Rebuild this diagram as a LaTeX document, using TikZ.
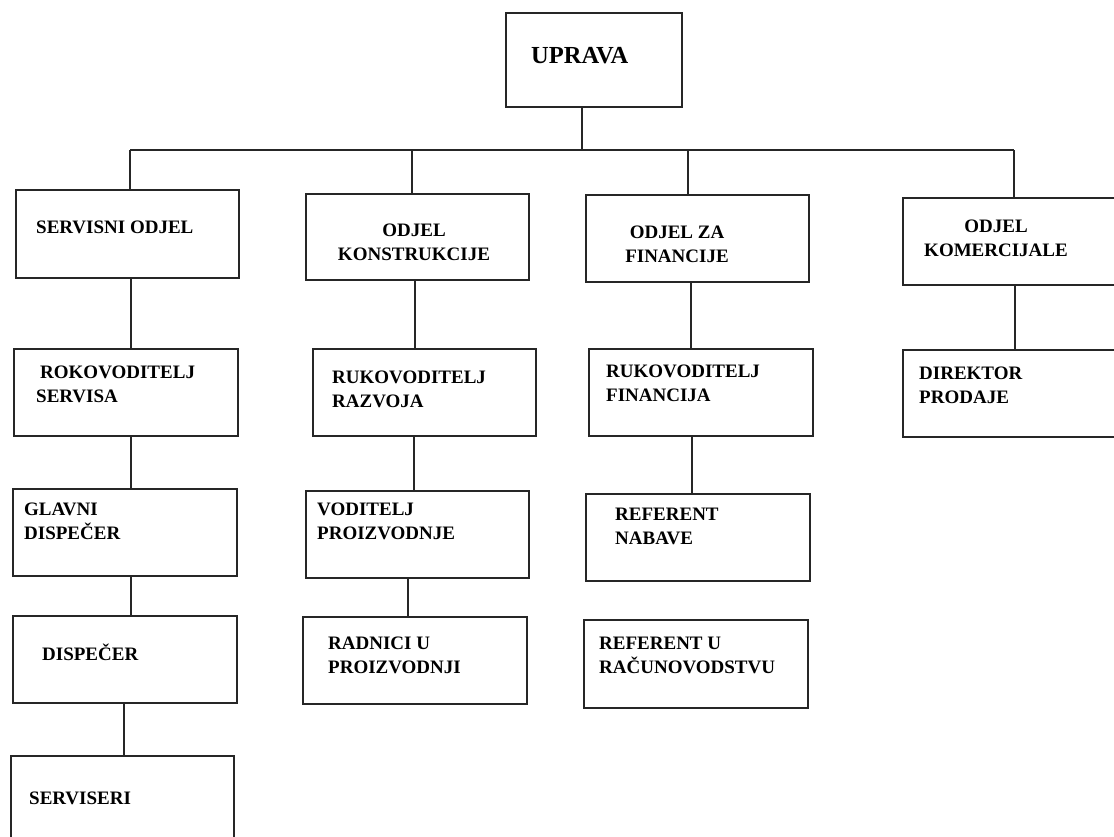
\documentclass[tikz,border=0pt]{standalone}
\usepackage{fontspec}
\setmainfont{Liberation Serif}
\begin{document}
\begin{tikzpicture}[x=1pt,y=-1pt,
  box/.style={draw=black!85,line width=1.5pt,inner sep=0pt,anchor=north west,fill=none},
  lbl/.style={inner sep=0pt,anchor=base west,align=left,font=\fontsize{19}{23.5}\selectfont\bfseries},
  clbl/.style={inner sep=0pt,anchor=base,align=center,font=\fontsize{19}{24}\selectfont\bfseries},
  conn/.style={draw=black!85,line width=1.5pt}]
\useasboundingbox (0,0) rectangle (1114,836);
\clip (0,0) rectangle (1114,836);
% boxes
\node[box,minimum width=176pt,minimum height=94pt] (upr) at (505,12) {};
\node[box,minimum width=223pt,minimum height=88pt] (serv) at (15,189) {};
\node[box,minimum width=223pt,minimum height=86pt] (konst) at (305,193) {};
\node[box,minimum width=223pt,minimum height=87pt] (fin) at (585,194) {};
\node[box,minimum width=230pt,minimum height=87pt] (kom) at (902,197) {};
\node[box,minimum width=224pt,minimum height=87pt] (rokserv) at (13,348) {};
\node[box,minimum width=223pt,minimum height=87pt] (rukraz) at (312,348) {};
\node[box,minimum width=224pt,minimum height=87pt] (rukfin) at (588,348) {};
\node[box,minimum width=230pt,minimum height=87pt] (dir) at (902,349) {};
\node[box,minimum width=224pt,minimum height=87pt] (glavni) at (12,488) {};
\node[box,minimum width=223pt,minimum height=87pt] (vodit) at (305,490) {};
\node[box,minimum width=224pt,minimum height=87pt] (nabave) at (585,493) {};
\node[box,minimum width=224pt,minimum height=87pt] (disp) at (12,615) {};
\node[box,minimum width=224pt,minimum height=87pt] (radnici) at (302,616) {};
\node[box,minimum width=224pt,minimum height=88pt] (racun) at (583,619) {};
\node[box,minimum width=223pt,minimum height=100pt] (servis) at (10,755) {};
% labels (anchor = baseline of the last line)
\node[lbl,font=\fontsize{24.5}{28}\selectfont\bfseries] (t-upr) at (531,63) {UPRAVA};
\node[lbl] (t-serv) at (36,233) {SERVISNI ODJEL};
\node[clbl] (t-konst) at (414,260) {ODJEL\\KONSTRUKCIJE};
\node[clbl] (t-fin) at (677,262) {ODJEL ZA\\FINANCIJE};
\node[clbl] (t-kom) at (996,256) {ODJEL\\KOMERCIJALE};
\node[lbl] (t-rokserv) at (40,378) {ROKOVODITELJ};
\node[lbl] (t-rokserv2) at (36,402) {SERVISA};
\node[lbl] (t-rukraz) at (332,407) {RUKOVODITELJ\\RAZVOJA};
\node[lbl] (t-rukfin) at (606,401) {RUKOVODITELJ\\FINANCIJA};
\node[lbl] (t-dir) at (919,403) {DIREKTOR\\PRODAJE};
\node[lbl] (t-glavni) at (24,539) {GLAVNI\\DISPEČER};
\node[lbl] (t-vodit) at (317,539) {VODITELJ\\PROIZVODNJE};
\node[lbl] (t-nabave) at (615,544) {REFERENT\\NABAVE};
\node[lbl] (t-disp) at (42,660) {DISPEČER};
\node[lbl] (t-radnici) at (328,673) {RADNICI U\\PROIZVODNJI};
\node[lbl] (t-racun) at (599,673) {REFERENT U\\RAČUNOVODSTVU};
\node[lbl] (t-servis) at (29,804) {SERVISERI};
% bus
\coordinate (busM) at (582,150);
\coordinate (busL) at (130,150);
\coordinate (busR) at (1014,150);
\coordinate (dK) at (412,150);
\coordinate (dF) at (688,150);
\draw[conn] (upr.south -| busM) -- (busM);
\draw[conn] (busL) -- (busR);
\draw[conn] (busL) -- (serv.north -| busL);
\draw[conn] (dK) -- (konst.north -| dK);
\draw[conn] (dF) -- (fin.north -| dF);
\draw[conn] (busR) -- (kom.north -| busR);
% vertical chains
\draw[conn] (serv.south -| 131,0) -- (rokserv.north -| 131,0);
\draw[conn] (rokserv.south -| 131,0) -- (glavni.north -| 131,0);
\draw[conn] (glavni.south -| 131,0) -- (disp.north -| 131,0);
\draw[conn] (disp.south -| 124,0) -- (servis.north -| 124,0);
\draw[conn] (konst.south -| 415,0) -- (rukraz.north -| 415,0);
\draw[conn] (rukraz.south -| 414,0) -- (vodit.north -| 414,0);
\draw[conn] (vodit.south -| 408,0) -- (radnici.north -| 408,0);
\draw[conn] (fin.south -| 691,0) -- (rukfin.north -| 691,0);
\draw[conn] (rukfin.south -| 692,0) -- (nabave.north -| 692,0);
\draw[conn] (kom.south -| 1015,0) -- (dir.north -| 1015,0);
\end{tikzpicture}
\end{document}
